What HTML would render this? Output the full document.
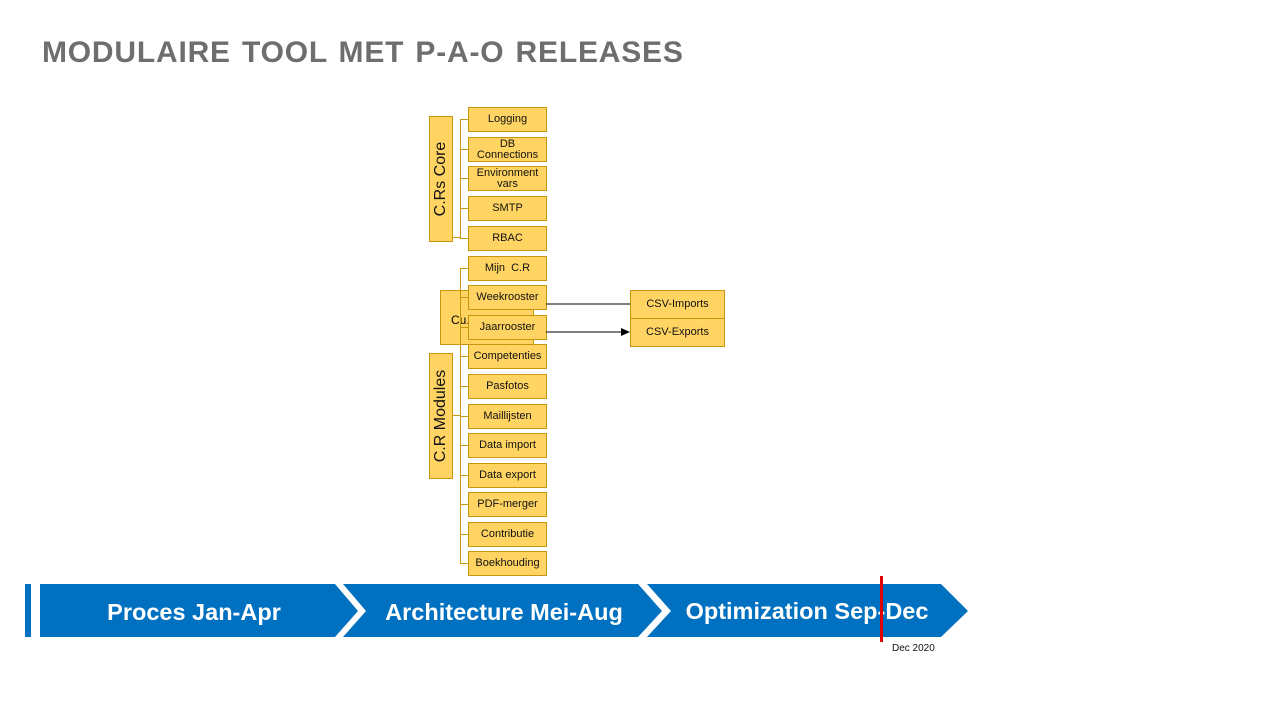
<!DOCTYPE html>
<html><head><style>
body{margin:0;width:1280px;height:720px;background:#fff;position:relative;overflow:hidden;font-family:"Liberation Sans",sans-serif}
.t{position:absolute;left:42px;top:36px;font-size:30px;font-weight:bold;color:#6e6e6e;letter-spacing:0.8px;word-spacing:2px}
.b{position:absolute;left:468px;width:77px;height:23px;background:#ffd462;border:1px solid #c8960c;font-size:11px;color:#111;display:flex;align-items:center;justify-content:center;text-align:center;line-height:11px}
.v{position:absolute;background:#ffd462;border:1px solid #c8960c}
.vt{position:absolute;left:50%;top:50%;transform:translate(-50%,-50%) rotate(-90deg);white-space:nowrap;font-size:16px;color:#111}
.h{position:absolute;height:1px;background:#c8960c;left:460px;width:8px}
</style></head><body>
<div class="t">MODULAIRE TOOL MET P-A-O RELEASES</div>
<div class="v" style="left:429px;top:116px;width:22px;height:124px"><div class="vt">C.Rs Core</div></div>
<div class="v" style="left:440px;top:290px;width:94px;height:55px;font-size:12px;padding:22px 0 0 10px;box-sizing:border-box">Cu.. En...</div>
<div class="v" style="left:429px;top:353px;width:22px;height:124px"><div class="vt">C.R Modules</div></div>
<div style="position:absolute;left:460px;top:119px;width:1px;height:119px;background:#c8960c"></div>
<div style="position:absolute;left:452px;top:237px;width:8px;height:1px;background:#c8960c"></div>
<div style="position:absolute;left:460px;top:268px;width:1px;height:295px;background:#c8960c"></div>
<div style="position:absolute;left:452px;top:415px;width:8px;height:1px;background:#c8960c"></div>
<div class="h" style="top:119px"></div><div class="h" style="top:149px"></div><div class="h" style="top:178px"></div><div class="h" style="top:208px"></div><div class="h" style="top:238px"></div>
<div class="h" style="top:268px"></div><div class="h" style="top:297px"></div><div class="h" style="top:327px"></div><div class="h" style="top:356px"></div><div class="h" style="top:386px"></div><div class="h" style="top:416px"></div><div class="h" style="top:445px"></div><div class="h" style="top:475px"></div><div class="h" style="top:504px"></div><div class="h" style="top:534px"></div><div class="h" style="top:563px"></div>
<div class="b" style="top:107px">Logging</div>
<div class="b" style="top:137px">DB<br>Connections</div>
<div class="b" style="top:166px">Environment<br>vars</div>
<div class="b" style="top:196px">SMTP</div>
<div class="b" style="top:226px">RBAC</div>
<div class="b" style="top:256px">Mijn&nbsp; C.R</div>
<div class="b" style="top:285px">Weekrooster</div>
<div class="b" style="top:315px">Jaarrooster</div>
<div class="b" style="top:344px">Competenties</div>
<div class="b" style="top:374px">Pasfotos</div>
<div class="b" style="top:404px">Maillijsten</div>
<div class="b" style="top:433px">Data import</div>
<div class="b" style="top:463px">Data export</div>
<div class="b" style="top:492px">PDF-merger</div>
<div class="b" style="top:522px">Contributie</div>
<div class="b" style="top:551px">Boekhouding</div>
<div class="b" style="left:630px;top:290px;width:93px;height:27px;font-size:11px">CSV-Imports</div>
<div class="b" style="left:630px;top:318px;width:93px;height:27px;font-size:11px">CSV-Exports</div>
<svg style="position:absolute;left:0;top:0" width="1280" height="720">
<line x1="546" y1="304" x2="630" y2="304" stroke="#000" stroke-width="1"/>
<line x1="546" y1="332" x2="622" y2="332" stroke="#000" stroke-width="1"/>
<polygon points="630,332 621,328 621,336" fill="#000"/>
<rect x="25" y="584" width="6" height="53" fill="#0070c0"/>
<polygon points="40,584 335,584 358,611 335,637 40,637" fill="#0070c0"/>
<polygon points="343,584 638,584 662,611 638,637 343,637 366,611" fill="#0070c0"/>
<polygon points="647,584 941,584 968,611 941,637 647,637 671,611" fill="#0070c0"/>
<text x="194" y="620" font-size="23.5" font-weight="bold" fill="#fff" text-anchor="middle" font-family="Liberation Sans">Proces Jan-Apr</text>
<text x="504" y="620" font-size="23.5" font-weight="bold" fill="#fff" text-anchor="middle" font-family="Liberation Sans">Architecture Mei-Aug</text>
<text x="807" y="619" font-size="23.5" font-weight="bold" fill="#fff" text-anchor="middle" font-family="Liberation Sans">Optimization Sep-Dec</text>
<rect x="880" y="576" width="3" height="66" fill="#e00000"/>
<text x="892" y="651" font-size="10" fill="#111" font-family="Liberation Sans">Dec 2020</text>
</svg>
</body></html>
